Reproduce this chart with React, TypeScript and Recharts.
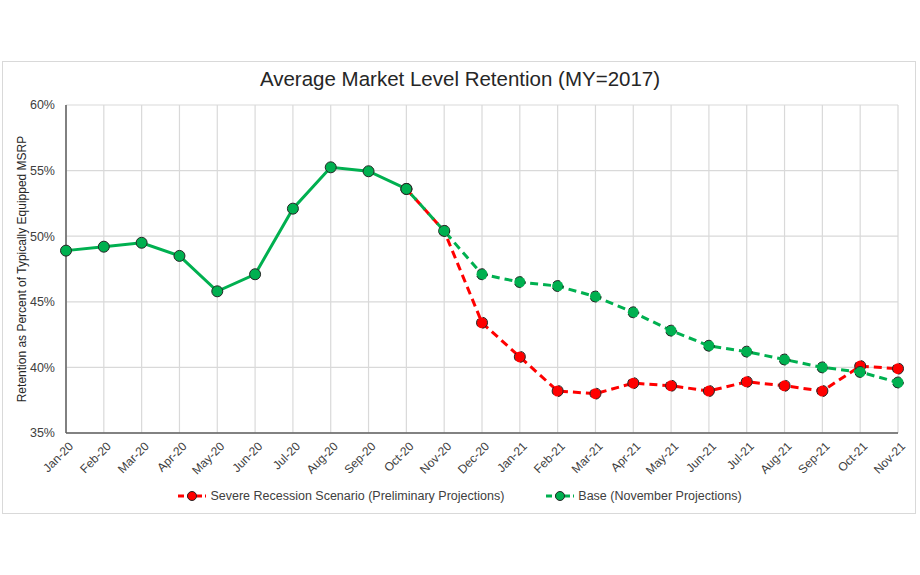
import { LineChart, Line, XAxis, YAxis, CartesianGrid, Legend } from "recharts";

// Months on the category axis
const months = [
  "Jan-20", "Feb-20", "Mar-20", "Apr-20", "May-20", "Jun-20", "Jul-20", "Aug-20",
  "Sep-20", "Oct-20", "Nov-20", "Dec-20", "Jan-21", "Feb-21", "Mar-21", "Apr-21",
  "May-21", "Jun-21", "Jul-21", "Aug-21", "Sep-21", "Oct-21", "Nov-21",
];

// Observed retention (solid green), percent
const actual: (number | null)[] = [
  48.9, 49.2, 49.5, 48.5, 45.8, 47.1, 52.1, 55.25, 54.95, 53.6, null,
  null, null, null, null, null, null, null, null, null, null, null, null,
];

// Severe recession scenario (red dashed), percent
const severe: (number | null)[] = [
  null, null, null, null, null, null, null, null, null, 53.6, 50.4,
  43.4, 40.8, 38.2, 38.0, 38.8, 38.6, 38.2, 38.9, 38.6, 38.2, 40.1, 39.9,
];

// Base projections (green dashed), percent
const base: (number | null)[] = [
  null, null, null, null, null, null, null, null, null, 53.6, 50.4,
  47.1, 46.5, 46.2, 45.4, 44.2, 42.8, 41.65, 41.2, 40.6, 40.0, 39.65, 38.85,
];

const yTicks = [35, 40, 45, 50, 55, 60];

const legendOrder = [
  "Severe Recession Scenario (Preliminary Projections)",
  "Base (November Projections)",
];

const data = months.map((m, i) => ({
  month: m,
  actual: actual[i],
  severe: severe[i],
  base: base[i],
}));

const RED = "#ff0000";
const GREEN = "#00b050";
const FRAME = "#5f5f5f";
const FONT = "'Liberation Sans', Arial, sans-serif";

const LegendContent = (props: any) => {
  const items = (props.payload || [])
    .filter((p: any) => legendOrder.includes(p.value))
    .sort((a: any, b: any) => legendOrder.indexOf(a.value) - legendOrder.indexOf(b.value));
  return (
    <div style={{ display: "flex", justifyContent: "center", gap: 42, fontFamily: FONT, fontSize: 12.5, color: "#404040" }}>
      {items.map((p: any) => (
        <div key={p.value} style={{ display: "flex", alignItems: "center" }}>
          <svg width={28} height={12} style={{ marginRight: 4 }}>
            <line x1={0} y1={6} x2={28} y2={6} stroke={p.color} strokeWidth={3} strokeDasharray="6 3" />
            <circle cx={14} cy={6} r={4.5} fill={p.color} stroke="#262626" strokeWidth={1} />
          </svg>
          <span>{p.value}</span>
        </div>
      ))}
    </div>
  );
};

const RetentionChart = () => {
  return (
    <div style={{ position: "absolute", left: 0, top: 0, width: 920, height: 575, background: "#fff" }}>
      <div
        style={{
          position: "absolute",
          left: 2,
          top: 61,
          width: 912,
          height: 451,
          border: "1px solid #d9d9d9",
        }}
      />
      <div
        style={{
          position: "absolute",
          left: 0,
          top: 67,
          width: 920,
          textAlign: "center",
          fontFamily: FONT,
          fontSize: 20.5,
          color: "#262626",
        }}
      >
        Average Market Level Retention (MY=2017)
      </div>
      <LineChart
        width={920}
        height={575}
        data={data}
        margin={{ top: 105, right: 22, left: 0, bottom: 82 }}
        style={{ position: "absolute", left: 0, top: 0 }}
      >
        <CartesianGrid stroke="#d9d9d9" strokeWidth={1.2} />
        <XAxis
          dataKey="month"
          interval={0}
          tickLine={false}
          axisLine={{ stroke: FRAME, strokeWidth: 1.5 }}
          height={60}
          tick={{ angle: -45, textAnchor: "end", fontSize: 12, fill: "#404040", fontFamily: FONT, dx: 2 }}
        />
        <XAxis xAxisId="top" dataKey="month" orientation="top" height={0} tick={false} tickLine={false} axisLine={{ stroke: FRAME, strokeWidth: 1.5 }} />
        <YAxis
          domain={[35, 60]}
          ticks={yTicks}
          width={66}
          tickLine={false}
          axisLine={{ stroke: FRAME, strokeWidth: 1.5 }}
          tickFormatter={(v: number) => `${v}%`}
          tick={{ fontSize: 12.5, fill: "#404040", fontFamily: FONT, dx: -3 }}
          label={{
            value: "Retention as Percent of Typically Equipped MSRP",
            angle: -90,
            position: "insideLeft",
            offset: 22,
            style: { textAnchor: "middle", fontSize: 12, fill: "#262626", fontFamily: FONT },
          }}
        />
        <YAxis yAxisId="right" orientation="right" width={0} domain={[35, 60]} tick={false} tickLine={false} axisLine={{ stroke: FRAME, strokeWidth: 1.5 }} />
        <Legend
          layout="horizontal"
          verticalAlign="middle"
          align="center"
          wrapperStyle={{ top: 489, left: 0, width: 920 }}
          content={<LegendContent />}
        />
        <Line
          dataKey="severe"
          name="Severe Recession Scenario (Preliminary Projections)"
          stroke={RED}
          strokeWidth={3}
          strokeDasharray="8 5"
          dot={{ r: 5.5, fill: RED, stroke: "#262626", strokeWidth: 1 }}
          isAnimationActive={false}
        />
        <Line
          dataKey="base"
          name="Base (November Projections)"
          stroke={GREEN}
          strokeWidth={3}
          strokeDasharray="8 5"
          strokeDashoffset={6}
          dot={{ r: 5.5, fill: GREEN, stroke: "#262626", strokeWidth: 1 }}
          isAnimationActive={false}
        />
        <Line
          dataKey="actual"
          legendType="none"
          stroke={GREEN}
          strokeWidth={3}
          dot={{ r: 5.5, fill: GREEN, stroke: "#262626", strokeWidth: 1 }}
          isAnimationActive={false}
        />
      </LineChart>
    </div>
  );
};

export default RetentionChart;
